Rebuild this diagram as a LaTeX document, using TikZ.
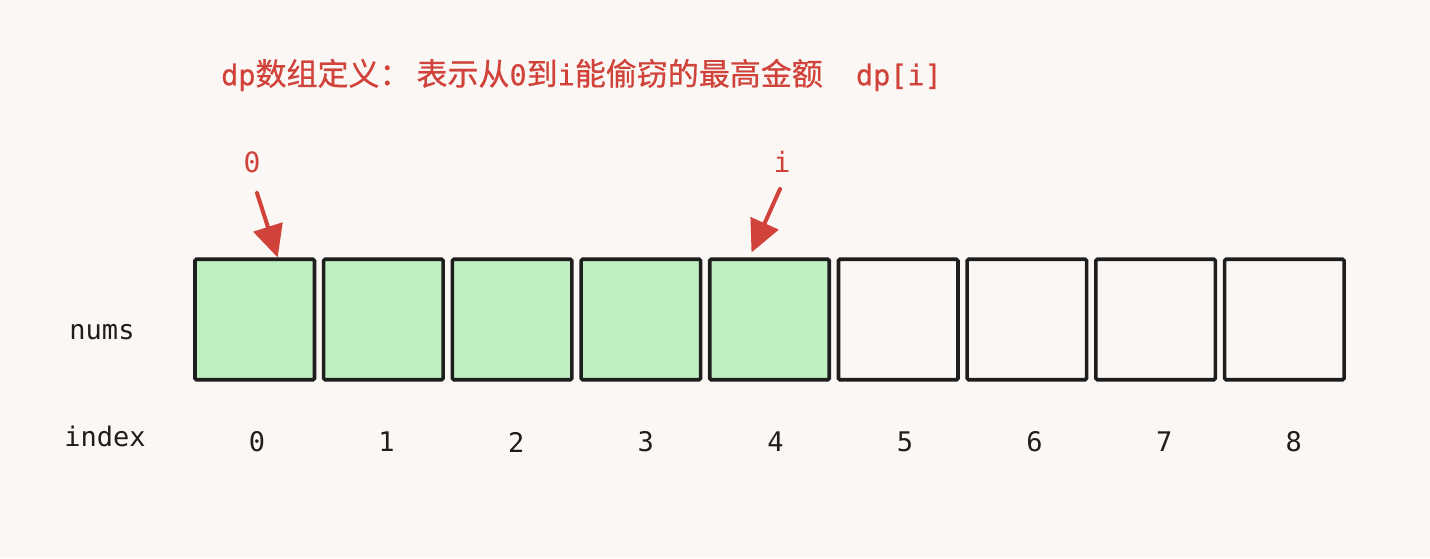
\documentclass[tikz,border=0pt]{standalone}
\usepackage{fontspec}
\setmainfont{DejaVu Sans Mono}
\newfontfamily\cjk[FakeBold=0.6]{Noto Sans CJK SC}
\newfontfamily\titlemono[FakeBold=0.4]{DejaVu Sans Mono}
\usetikzlibrary{arrows.meta,calc}
\definecolor{bgc}{RGB}{250,247,244}
\definecolor{redc}{RGB}{208,66,58}
\definecolor{greenc}{RGB}{191,240,193}
\definecolor{inkc}{RGB}{30,30,30}
\newcommand{\zh}[1]{{\cjk\fontsize{31}{32}\selectfont #1}}
\tikzset{
  cell/.style={draw=inkc, line width=3.6pt, rounded corners=1.5pt, minimum width=119.5pt, minimum height=120.5pt, inner sep=0pt},
  filled/.style={cell, fill=greenc},
  empty/.style={cell, fill=bgc},
  idx/.style={text=inkc, font=\fontsize{27}{30}\selectfont, inner sep=0pt},
  redlabel/.style={text=redc, font=\fontsize{28}{30}\selectfont, inner sep=0pt},
  redarrow/.style={draw=redc, line width=4pt, line cap=round, -{Triangle[length=32pt,width=30pt]}}
}
\begin{document}
\begin{tikzpicture}[x=1pt,y=-1pt]
\useasboundingbox[fill=bgc] (0,0) rectangle (1430,558);
% title
\node[anchor=west, text=redc, inner sep=0pt] (title) at (221,75)
  {\titlemono\fontsize{28.5}{32}\selectfont dp\zh{数组定义：}\hspace{6pt}\zh{表示从}0\zh{到}i\zh{能偷窃的最高金额}\hspace{16pt} dp[i]};
% cells
\foreach \k in {0,...,8} {
  \pgfmathsetmacro{\cx}{254.7+128.7*\k}
  \ifnum\k<5
    \node[filled] (b\k) at (\cx,319.5) {};
  \else
    \node[empty] (b\k) at (\cx,319.5) {};
  \fi
  \pgfmathsetmacro{\lx}{257+129.6*\k}
  \node[idx] (i\k) at (\lx,442) {\k};
}
\node[idx] (nums) at (102,332) {nums};
\node[idx] (index) at (105,436) {index};
% pointer labels
\node[redlabel] (l0) at (252,162) {0};
\node[redlabel] (li) at (782,162) {i};
\coordinate (t0) at (257,193);
\coordinate (ti) at (780,189);
\coordinate (h0) at ($(b0.north)+(23,0)$);
\coordinate (hi) at ($(b4.north)+(-18,-5)$);
\draw[redarrow] (t0) -- (h0);
\draw[redarrow] (ti) -- (hi);
\end{tikzpicture}
\end{document}
